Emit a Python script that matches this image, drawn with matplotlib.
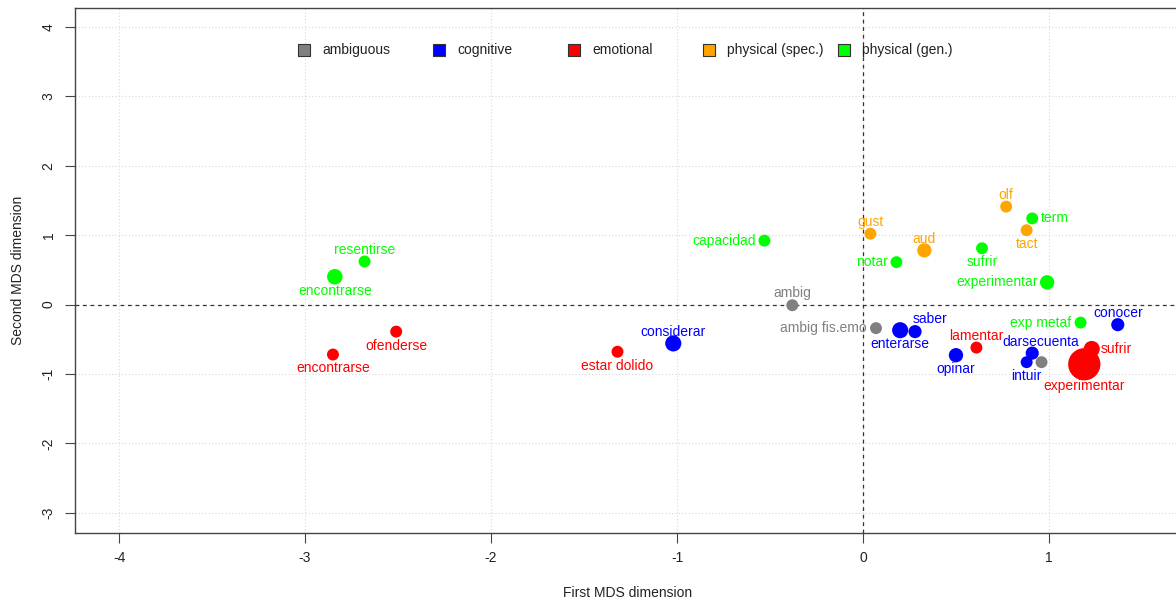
import matplotlib
matplotlib.use("Agg")
import matplotlib.pyplot as plt

plt.rcParams['font.family'] = ['Liberation Sans', 'DejaVu Sans']
plt.rcParams['axes.unicode_minus'] = False

categories = ['ambiguous', 'cognitive', 'emotional', 'physical (spec.)', 'physical (gen.)']
cat_colors = {
    'ambiguous': '#808080',
    'cognitive': '#0000FF',
    'emotional': '#FF0000',
    'physical (spec.)': '#FFA500',
    'physical (gen.)': '#00FF00',
}

# MDS coordinates
words = ['resentirse', 'encontrarse', 'capacidad', 'notar', 'sufrir', 'term',
         'experimentar', 'exp metaf',
         'gust', 'aud', 'olf', 'tact',
         'ambig', 'ambig fis.emo', '',
         'considerar', 'enterarse', 'saber', 'opinar', 'darsecuenta', 'intuir', 'conocer',
         'encontrarse', 'ofenderse', 'estar dolido', 'lamentar', 'sufrir', 'experimentar']
word_cat = (['physical (gen.)'] * 8 + ['physical (spec.)'] * 4 + ['ambiguous'] * 3
            + ['cognitive'] * 7 + ['emotional'] * 6)
dim1 = [-2.68, -2.84, -0.53, 0.18, 0.64, 0.91, 0.99, 1.17,
        0.04, 0.33, 0.77, 0.88,
        -0.38, 0.07, 0.96,
        -1.02, 0.20, 0.28, 0.50, 0.91, 0.88, 1.37,
        -2.85, -2.51, -1.32, 0.61, 1.23, 1.19]
dim2 = [0.62, 0.40, 0.92, 0.61, 0.81, 1.24, 0.32, -0.26,
        1.02, 0.78, 1.41, 1.07,
        -0.01, -0.34, -0.83,
        -0.56, -0.37, -0.39, -0.73, -0.70, -0.83, -0.29,
        -0.72, -0.39, -0.68, -0.62, -0.64, -0.86]
# relative weight (drives point size)
weight = [1.0, 1.3, 1.0, 1.0, 1.0, 1.0, 1.2, 1.0,
          1.0, 1.2, 1.0, 1.0,
          1.0, 1.0, 1.0,
          1.35, 1.35, 1.1, 1.2, 1.1, 1.0, 1.1,
          1.0, 1.0, 1.0, 1.0, 1.35, 2.7]

# label placement relative to the point (R-style pos)
label_pos = ['above', 'below', 'left', 'left', 'below', 'right', 'left', 'left',
             'above', 'above', 'above', 'below',
             'above', 'left', 'none',
             'above', 'below', 'aboveright', 'below', 'above_r', 'below', 'above',
             'below', 'below', 'below', 'above', 'right', 'below']

fig = plt.figure(figsize=(11.76, 6.08), dpi=100)
ax = fig.add_axes([75 / 1176, 1 - 533 / 608, 1106 / 1176, 525 / 608])
ax.set_xlim(-4.237, 1.71)
ax.set_ylim(-3.29, 4.27)

ax.set_xticks([-4, -3, -2, -1, 0, 1])
ax.set_yticks([-3, -2, -1, 0, 1, 2, 3, 4])
ax.grid(True, color='#d9d9d9', linestyle=(0, (1, 2)), linewidth=0.8)
ax.set_axisbelow(True)
ax.axhline(0, color='#333333', linestyle=(0, (3, 3)), linewidth=0.9, zorder=1)
ax.axvline(0, color='#333333', linestyle=(0, (3, 3)), linewidth=0.9, zorder=1)

for sp in ax.spines.values():
    sp.set_color('#444444')
    sp.set_linewidth(1.0)
ax.tick_params(direction='out', length=7, width=0.8, color='#444444',
               labelsize=10, labelcolor='#222222')
ax.tick_params(axis='x', pad=6)
ax.tick_params(axis='y', pad=7)
for lab in ax.get_yticklabels():
    lab.set_rotation(90)
    lab.set_va('center')

# (dx, dy) in points, text centred
offsets = {
    'above': (0, 8.5, 'center'),
    'above_r': (6, 8, 'center'),
    'below': (0, -10, 'center'),
    'left': (-6.5, 0, 'right'),
    'right': (6.5, 0, 'left'),
    'aboveright': (11, 9, 'center'),
    'none': None,
}

for w, c, x, y, s, p in zip(words, word_cat, dim1, dim2, weight, label_pos):
    col = cat_colors[c]
    d = 8.6 * s
    ax.scatter(x, y, s=d ** 2, color=col, edgecolors='none', zorder=3)
    o = offsets[p]
    if o is None or not w:
        continue
    dx, dy, ha = o
    if p == 'below' and s > 2:
        dy -= 6
    ax.annotate(w, (x, y), xytext=(dx, dy), textcoords='offset points',
                ha=ha, va='center', color=col, fontsize=10, zorder=4)

# horizontal legend, equally spaced like R's legend(horiz=TRUE)
for i, c in enumerate(categories):
    lx = (304 - 75 + 135 * i) / 1106
    ly = (533 - 50) / 525
    ax.scatter(lx, ly, s=80, marker='s', color=cat_colors[c], edgecolors='#333333',
               linewidths=0.8, transform=ax.transAxes, zorder=5, clip_on=False)
    ax.text(lx + 18 / 1106, ly, c, transform=ax.transAxes, ha='left', va='center',
            fontsize=10, color='#222222')

ax.set_xlabel('First MDS dimension', fontsize=10, labelpad=15, color='#222222')
ax.set_ylabel('Second MDS dimension', fontsize=10, labelpad=12, color='#222222')

fig.savefig('out.png', dpi=100)
